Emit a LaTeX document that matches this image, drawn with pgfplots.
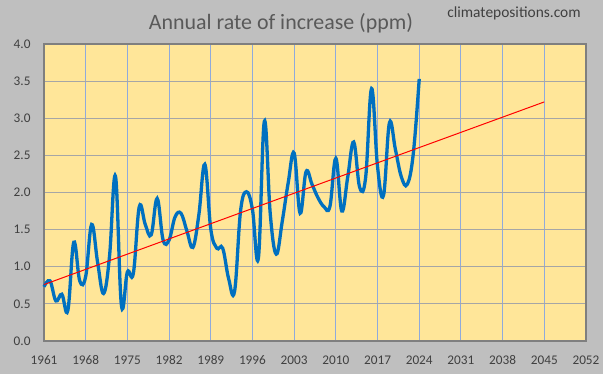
\documentclass[border=0pt]{standalone}
\usepackage{pgfplots}
\pgfplotsset{compat=1.18}
\usepackage{fontspec}
\setmainfont{Carlito}
\definecolor{bg}{HTML}{BFBFBF}
\definecolor{plotbg}{HTML}{FFE699}
\definecolor{vgrid}{HTML}{8FAADC}
\definecolor{hgrid}{HTML}{A6A6A6}
\definecolor{border}{HTML}{7F7F7F}
\definecolor{linec}{HTML}{0070C0}
\definecolor{labelc}{HTML}{404040}
\definecolor{titlec}{HTML}{595959}
\begin{document}
\begin{tikzpicture}
\fill[bg] (-44bp,-33bp) rectangle (559bp,341bp);
\begin{axis}[at={(0,0)}, anchor=south west, scale only axis,
  width=542bp, height=297bp,
  xmin=1961, xmax=2052, ymin=0, ymax=4,
  xtick={1961,1968,...,2052}, ytick={0,0.5,...,4},
  axis background/.style={fill=plotbg},
  xmajorgrids, ymajorgrids,
  x grid style={vgrid, line width=0.9bp},
  y grid style={hgrid, line width=0.9bp},
  axis line style={border, line width=1.3bp},
  major tick length=0pt,
  /pgf/number format/assume math mode=true,
  tick label style={font=\fontsize{13.3}{16}\selectfont, text=labelc},
  xticklabel style={/pgf/number format/1000 sep={}, yshift=-11bp},
  yticklabel style={/pgf/number format/.cd, fixed, fixed zerofill, precision=1, /tikz/.cd, xshift=-10bp},
  clip=false,
]
\addplot[linec, line width=3.3bp, smooth, tension=0.65] coordinates {
(1961,0.73) (1962,0.81) (1963,0.54) (1964,0.63) (1965,0.41) (1966,1.33)
(1967,0.81) (1968,0.87) (1969,1.57) (1970,1.06) (1971,0.64) (1972,1.14)
(1973,2.22) (1974,0.48) (1975,0.93) (1976,0.91) (1977,1.81) (1978,1.57)
(1979,1.43) (1980,1.92) (1981,1.36) (1982,1.36) (1983,1.67) (1984,1.72)
(1985,1.48) (1986,1.26) (1987,1.70) (1988,2.38) (1989,1.51) (1990,1.25)
(1991,1.25) (1992,0.84) (1993,0.67) (1994,1.75) (1995,2.01) (1996,1.77)
(1997,1.12) (1998,2.96) (1999,1.70) (2000,1.17) (2001,1.61) (2002,2.13)
(2003,2.53) (2004,1.72) (2005,2.28) (2006,2.11) (2007,1.93) (2008,1.81)
(2009,1.81) (2010,2.46) (2011,1.75) (2012,2.21) (2013,2.68) (2014,2.07)
(2015,2.20) (2016,3.40) (2017,2.35) (2018,1.96) (2019,2.94) (2020,2.58)
(2021,2.21) (2022,2.11) (2023,2.52) (2024,3.53)
};
\addplot[red, line width=1bp] coordinates {(1961,0.76) (2045,3.22)};
\end{axis}
\node[anchor=base, font=\fontsize{22}{26}\selectfont, text=titlec] at (237bp,311bp) {Annual rate of increase (ppm)};
\node[anchor=base, font=\fontsize{15.5}{18}\selectfont, text=labelc] at (470bp,323bp) {climatepositions.com};
\end{tikzpicture}
\end{document}
